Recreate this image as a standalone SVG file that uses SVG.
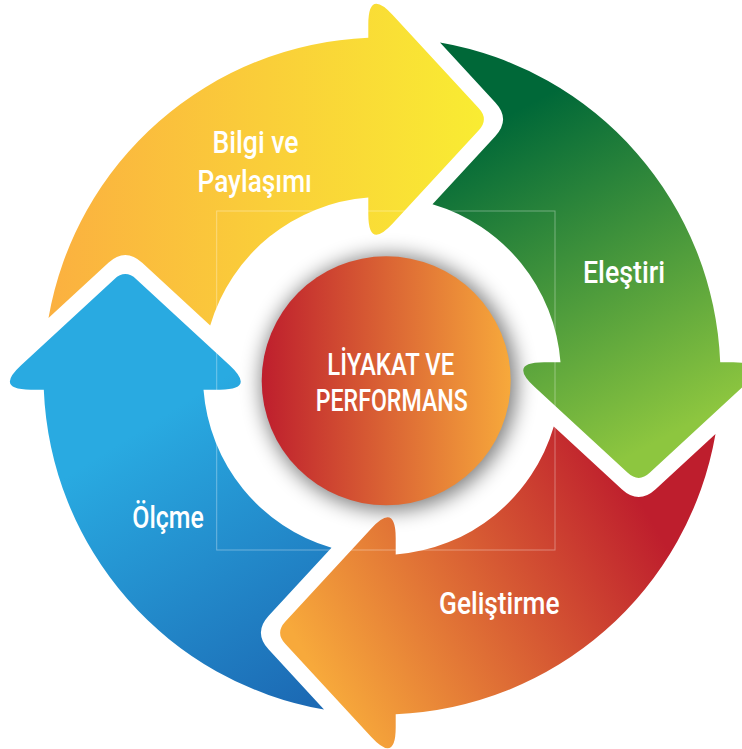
<svg xmlns="http://www.w3.org/2000/svg" xmlns:xlink="http://www.w3.org/1999/xlink" width="742" height="749" viewBox="0 0 742 749">
  <style>
    .lbl { font-family: Roboto, "Liberation Sans", "DejaVu Sans", sans-serif; font-weight: 500; font-size: 31px; fill: #ffffff; }
    .ctr { font-size: 32px; }
  </style>
  <defs>
    <path id="arrow" d="M -333.5 -58 A 338.5 338.5 0 0 1 -13.7 -338.2 L -13.7 -351.4 Q -13.7 -387.4 10.7 -360.9 L 96.8 -267.7 Q 107 -256.7 96.8 -245.7 L 10.7 -152.4 Q -13.7 -126 -13.7 -162 L -13.7 -178.5 A 179 179 0 0 0 -171.8 -50.5 L -239.8 -113.3 Q -256.7 -128.9 -273.6 -113.3 Z"/>
    <linearGradient id="gY" gradientUnits="userSpaceOnUse" x1="-335" y1="-100" x2="107" y2="-100">
      <stop offset="0" stop-color="#FBB040"/>
      <stop offset="1" stop-color="#F9ED32"/>
    </linearGradient>
    <linearGradient id="gG" gradientUnits="userSpaceOnUse" x1="-296" y1="-88" x2="64" y2="-278">
      <stop offset="0.12" stop-color="#006838"/>
      <stop offset="1" stop-color="#8DC63F"/>
    </linearGradient>
    <linearGradient id="gR" gradientUnits="userSpaceOnUse" x1="-298" y1="-94" x2="62" y2="-304">
      <stop offset="0.12" stop-color="#BE1E2D"/>
      <stop offset="1" stop-color="#F7A93B"/>
    </linearGradient>
    <linearGradient id="gB" gradientUnits="userSpaceOnUse" x1="-324" y1="-72" x2="-54" y2="-242">
      <stop offset="0" stop-color="#1C6AB4"/>
      <stop offset="1" stop-color="#29AAE1"/>
    </linearGradient>
    <linearGradient id="gC" x1="0" y1="0" x2="1" y2="0">
      <stop offset="0" stop-color="#BE1E2D"/>
      <stop offset="1" stop-color="#F7A93B"/>
    </linearGradient>
    <filter id="sh" x="-40%" y="-40%" width="180%" height="180%">
      <feGaussianBlur stdDeviation="10"/>
    </filter>
  </defs>

  <rect x="0" y="0" width="742" height="749" fill="#ffffff"/>

  <circle cx="389" cy="383" r="128" fill="#000000" opacity="0.5" filter="url(#sh)"/>

  <g id="node-bilgi">
    <use xlink:href="#arrow" href="#arrow" transform="translate(382 376)" fill="url(#gY)"/>
    <text class="lbl" x="212.5" y="153.3" textLength="86" lengthAdjust="spacingAndGlyphs">Bilgi ve</text>
    <text class="lbl" x="197.5" y="191.7" textLength="114.5" lengthAdjust="spacingAndGlyphs">Paylaşımı</text>
  </g>

  <g id="node-elestiri">
    <use xlink:href="#arrow" href="#arrow" transform="translate(382 376) rotate(90)" fill="url(#gG)"/>
    <text class="lbl" x="583" y="283.3" textLength="82" lengthAdjust="spacingAndGlyphs">Eleştiri</text>
  </g>

  <g id="node-gelistirme">
    <use xlink:href="#arrow" href="#arrow" transform="translate(382 376) rotate(180)" fill="url(#gR)"/>
    <text class="lbl" x="439" y="614.3" textLength="120.5" lengthAdjust="spacingAndGlyphs">Geliştirme</text>
  </g>

  <g id="node-olcme">
    <use xlink:href="#arrow" href="#arrow" transform="translate(382 376) rotate(270)" fill="url(#gB)"/>
    <text class="lbl" x="132.3" y="528.3" textLength="71.5" lengthAdjust="spacingAndGlyphs">Ölçme</text>
  </g>

  <rect x="216.7" y="211" width="338.3" height="339" fill="none" stroke="#ffffff" stroke-opacity="0.35" stroke-width="1"/>

  <g id="node-center">
    <circle cx="386.2" cy="380.8" r="124.5" fill="url(#gC)"/>
    <text class="lbl ctr" x="327.3" y="375" textLength="127" lengthAdjust="spacingAndGlyphs">LİYAKAT VE</text>
    <text class="lbl ctr" x="315.7" y="411" textLength="152" lengthAdjust="spacingAndGlyphs">PERFORMANS</text>
  </g>
</svg>
